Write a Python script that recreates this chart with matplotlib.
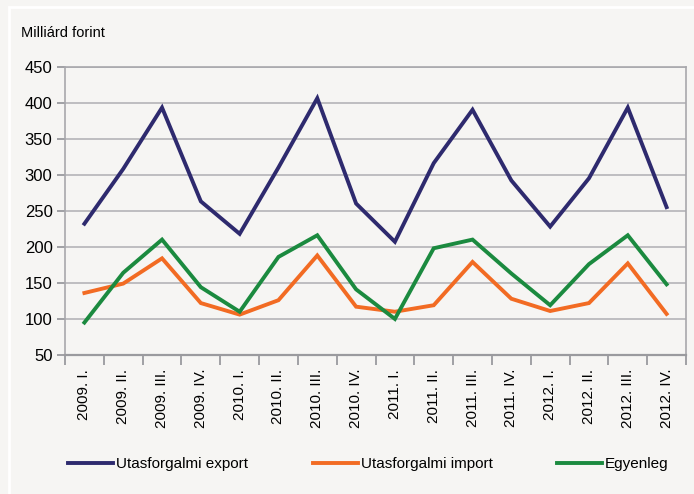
import matplotlib
matplotlib.use("Agg")
import matplotlib.pyplot as plt
from matplotlib.patches import Rectangle

# negyedévek
quarters = ["2009. I.", "2009. II.", "2009. III.", "2009. IV.",
            "2010. I.", "2010. II.", "2010. III.", "2010. IV.",
            "2011. I.", "2011. II.", "2011. III.", "2011. IV.",
            "2012. I.", "2012. II.", "2012. III.", "2012. IV."]
export = [232, 308, 393, 263, 218, 310, 406, 260,
          207, 316, 390, 292, 228, 295, 393, 255]
imports = [136, 149, 184, 122, 106, 126, 188, 117,
           110, 119, 179, 128, 111, 122, 177, 107]
balance = [95, 164, 210, 144, 110, 186, 216, 141,
           100, 198, 210, 163, 119, 176, 216, 148]
yticks = [50, 100, 150, 200, 250, 300, 350, 400, 450]
series_names = ["Utasforgalmi export", "Utasforgalmi import", "Egyenleg"]

BG = "#f6f5f3"
GRID = "#b4b4b8"
plt.rcParams["font.family"] = ["Liberation Sans", "DejaVu Sans"]

fig = plt.figure(figsize=(6.94, 4.94), dpi=100, facecolor=BG)
# vékony fehér keret bal/fent
fig.patches.append(Rectangle((8.5 / 694, -0.1), 1.2, 1.1 - 7.5 / 494,
                             transform=fig.transFigure, fill=False,
                             edgecolor="white", linewidth=2, zorder=0))
ax = fig.add_axes([65 / 694, 1 - 355 / 494, 621 / 694, 288.5 / 494])
ax.set_facecolor(BG)

x = list(range(len(quarters)))
l1, = ax.plot(x, export, color="#2e2a6e", lw=2.8, solid_joinstyle="miter")
l2, = ax.plot(x, imports, color="#f26b23", lw=2.8, solid_joinstyle="miter")
l3, = ax.plot(x, balance, color="#1b8a3f", lw=2.8, solid_joinstyle="miter")

ax.set_xlim(-0.5, len(quarters) - 0.5)
ax.set_ylim(50, 450)
ax.set_yticks(yticks)
ax.set_yticklabels([str(v) for v in yticks], fontsize=12)
ax.yaxis.grid(True, color=GRID, lw=1.2)
ax.set_axisbelow(True)

# fő osztások a kategóriahatárokon, feliratok középen
ax.set_xticks([i - 0.5 for i in range(len(quarters) + 1)])
ax.set_xticklabels([])
ax.set_xticks(x, minor=True)
ax.set_xticklabels(quarters, minor=True, rotation=90, fontsize=11)
ax.tick_params(axis="x", which="major", length=7, width=1.3, color="#9a9a9e")
ax.tick_params(axis="x", which="minor", length=0, pad=10)
ax.tick_params(axis="y", length=6, width=1.3, color="#9a9a9e", pad=3)

for side in ["left", "right", "top"]:
    ax.spines[side].set_color("#a8a8ac")
    ax.spines[side].set_linewidth(1.2)
ax.spines["bottom"].set_color("#9a9a9e")
ax.spines["bottom"].set_linewidth(1.6)

fig.text(21 / 694, 1 - 33 / 494, "Milliárd forint", fontsize=10.5,
         va="center", ha="left")

# jelmagyarázat: három külön bejegyzés a mért helyeken
for line, name, px in zip([l1, l2, l3], series_names, [68, 313, 557]):
    fig.legend([line], [name], loc="center left",
               bbox_to_anchor=(px / 694, 1 - 464 / 494), frameon=False,
               fontsize=11, handlelength=2.95, handletextpad=0.2,
               borderaxespad=0, borderpad=0)

fig.savefig("out.png", dpi=100, facecolor=BG)
